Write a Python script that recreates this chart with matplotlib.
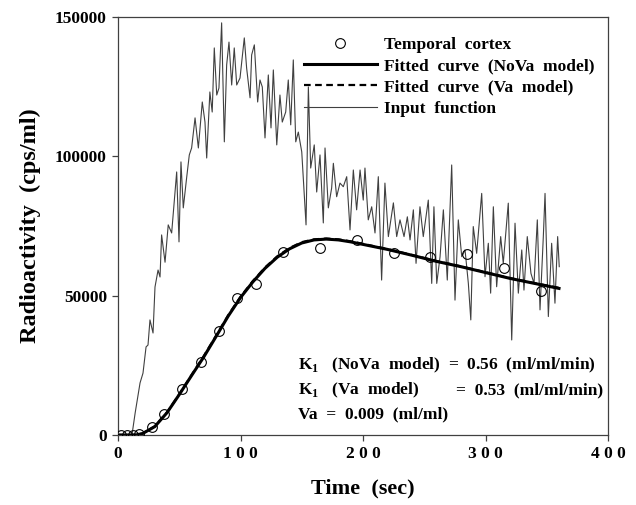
import matplotlib.pyplot as plt

# Figure size (636 x 505 px at 100 dpi)
WIDTH = 6.36
HEIGHT = 5.05

FONT = "Liberation Serif"
COLOR_INPUT = "0.25"

# Temporal cortex (frame mid-times, sec / cps/ml)
tissue_t = [2.5, 7.5, 12.5, 17.5, 27.5, 37.5, 52.5, 67.5, 82.5, 97.5,
            112.5, 135, 165, 195, 225, 255, 285, 315, 345]
tissue_y = [0, 0, 0, 300, 2900, 7500, 16500, 26200, 37300, 49200,
            54200, 65700, 67100, 70000, 65300, 63900, 65000, 59900, 51700]

# Fitted curves
fit_t = [0, 10, 15, 20, 30, 40, 50, 60, 70, 80, 90, 100, 110, 120, 130,
         140, 150, 160, 170, 180, 190, 200, 220, 240, 260, 280, 300, 320,
         340, 360]
fit_nova = [0, 0, 50, 500, 3000, 8000, 14500, 21300, 28000, 35300, 42700,
            49300, 54900, 59800, 63800, 66800, 68900, 70000, 70300, 70000,
            69300, 68400, 66600, 64500, 62300, 60400, 58300, 56200, 54400,
            52600]
fit_va = [0, 0, 60, 550, 3100, 8100, 14600, 21500, 28300, 35600, 43000,
          49600, 55200, 60100, 64100, 67100, 69200, 70200, 70500, 70200,
          69500, 68600, 66700, 64600, 62400, 60500, 58400, 56300, 54500,
          52800]

# Input function (arterial)
input_t = [0, 5, 10, 11.4, 14, 18, 20.4, 22.9, 24.5, 26.1, 28.6, 30.2,
           32.7, 34.3, 35.6, 38.4, 41, 43.8, 47.9, 49.8, 51.4, 53.3, 56,
           58.2, 60.1, 62.9, 65.6, 68.8, 71, 72.4, 75, 76.9, 78.6, 80.6,
           82.4, 84.6, 86.8, 88.7, 90.6, 92.8, 94.9, 96.9, 99.6, 103.1,
           105, 107.8, 109.1, 111.3, 114, 115.9, 117.8, 120, 122.7, 124.9,
           126.8, 129.6, 132.2, 134.1, 136.9, 139, 141, 143.1, 145.1, 147.2,
           150, 153.5, 155.4, 157.3, 160.2, 162.2, 164.9, 167.6, 169, 171.7,
           174.4, 175.8, 178.5, 181.2, 183.9, 186.7, 189.4, 192.1, 194.8,
           197.6, 200.2, 201.6, 204.3, 207.1, 209.8, 212.5, 215.2, 217.9,
           220.7, 224.8, 227.5, 230.2, 233.5, 236.2, 238.4, 241.1, 243.3,
           246.5, 249.2, 253.3, 256.1, 257.9, 260.2, 262.9, 265.6, 268.8,
           272.4, 275.1, 277.8, 280.6, 283.3, 286, 288, 290, 292.8, 296.9,
           299.6, 302.3, 304.2, 306.4, 309.1, 312.4, 314.5, 318.6, 321.4,
           324.1, 326.8, 329.6, 331.4, 334.1, 337.1, 339.6, 342.3, 344.5,
           347.2, 348.6, 351.3, 354, 356.7, 358.9, 360.2]
input_y = [0, 0, 0, 0, 7900, 18700, 22200, 31600, 32300, 41300, 36600,
           53100, 59200, 56700, 71800, 62000, 75400, 72500, 94400, 69300,
           98000, 81500, 92200, 100500, 103000, 113800, 103000, 119500,
           112300, 99400, 123100, 115900, 138900, 122000, 124500, 147900,
           105200, 132800, 141000, 125600, 138900, 125600, 128100, 142500,
           131700, 121000, 136400, 140000, 119500, 127400, 124900, 106600,
           129200, 110200, 131000, 104100, 122000, 112300, 115900, 127400,
           111300, 134600, 105200, 108700, 101600, 75400, 124900, 95800,
           104100, 87200, 100500, 76100, 103000, 81500, 88600, 97500, 85500,
           90400, 89100, 92700, 73600, 95100, 80800, 95100, 84300, 95800,
           77200, 81900, 72500, 92700, 55600, 90400, 71200, 83300, 71200,
           77200, 71200, 78300, 70000, 80800, 61600, 81900, 71200, 84300,
           54400, 81900, 54400, 64000, 80800, 55600, 96900, 48400, 77200,
           64000, 66400, 54400, 41300, 74800, 65200, 86700, 56800, 68800,
           50900, 81900, 53200, 71200, 61600, 83200, 34100, 76000, 50900,
           66400, 52000, 71200, 58000, 54400, 77200, 44900, 71200, 86700,
           42500, 68800, 47300, 71200, 60400]

x_ticks = [0, 100, 200, 300, 400]
y_ticks = [0, 50000, 100000, 150000]


def main():
    plt.rcParams["font.family"] = FONT
    plt.rcParams["font.weight"] = "bold"
    plt.rcParams["mathtext.fontset"] = "custom"
    plt.rcParams["mathtext.rm"] = FONT + ":bold"

    fig = plt.figure(figsize=(WIDTH, HEIGHT), dpi=100)
    ax = fig.add_axes([118 / 636, 1 - 435 / 505, 490 / 636, 418 / 505])
    ax.set_xlim(0, 400)
    ax.set_ylim(0, 150000)

    # Data
    ax.plot(input_t, input_y, color=COLOR_INPUT, lw=0.8, zorder=1,
            label="Input  function")
    ax.plot(fit_t, fit_nova, color="black", lw=2.2, zorder=2,
            label="Fitted  curve  (NoVa  model)")
    ax.plot(fit_t, fit_va, color="black", lw=1.6, ls=(0, (3, 2)), zorder=3,
            label="Fitted  curve  (Va  model)")
    ax.plot(tissue_t, tissue_y, ls="none", marker="o", ms=7, mfc="none",
            mec="black", mew=0.8, zorder=4, label="Temporal  cortex")

    # Axes style
    for side in ["left", "bottom", "top", "right"]:
        ax.spines[side].set_color("0.25")
        ax.spines[side].set_linewidth(0.9)
    ax.set_xticks(x_ticks)
    ax.set_yticks(y_ticks)
    ax.set_xticklabels([" ".join(str(v)) for v in x_ticks])
    ax.tick_params(direction="out", length=4, width=0.9, color="0.25",
                   labelsize=12.5, pad=4)
    for lbl in ax.get_xticklabels() + ax.get_yticklabels():
        lbl.set_fontweight("bold")
    ax.set_xlabel("Time  (sec)", fontsize=16, fontweight="bold", labelpad=12)
    ax.set_ylabel("Radioactivity  (cps/ml)", fontsize=17.5, fontweight="bold",
                  labelpad=10)

    # Legend
    handles, labels = ax.get_legend_handles_labels()
    order = [3, 1, 2, 0]
    ax.legend([handles[i] for i in order], [labels[i] for i in order],
              loc="upper right", bbox_to_anchor=(603 / 636, 1 - 28 / 505),
              bbox_transform=fig.transFigure, frameon=False,
              handlelength=4.2, handletextpad=0.4, labelspacing=0.3,
              borderpad=0, prop={"family": FONT, "weight": "bold", "size": 12.5})

    # Parameter estimates
    text = dict(fontsize=12.5, fontweight="bold", va="center",
                transform=fig.transFigure)
    ax.text(298 / 636, 1 - 365 / 505,
            r"K$_\mathrm{1}$   (NoVa  model)  =  0.56  (ml/ml/min)",
            ha="left", **text)
    ax.text(298 / 636, 1 - 390 / 505, r"K$_\mathrm{1}$   (Va  model)",
            ha="left", **text)
    ax.text(603 / 636, 1 - 390 / 505, "=  0.53  (ml/ml/min)",
            ha="right", **text)
    ax.text(298 / 636, 1 - 414 / 505, "Va  =  0.009  (ml/ml)",
            ha="left", **text)

    plt.savefig("out.png", dpi=100)
    plt.close()


if __name__ == "__main__":
    main()
